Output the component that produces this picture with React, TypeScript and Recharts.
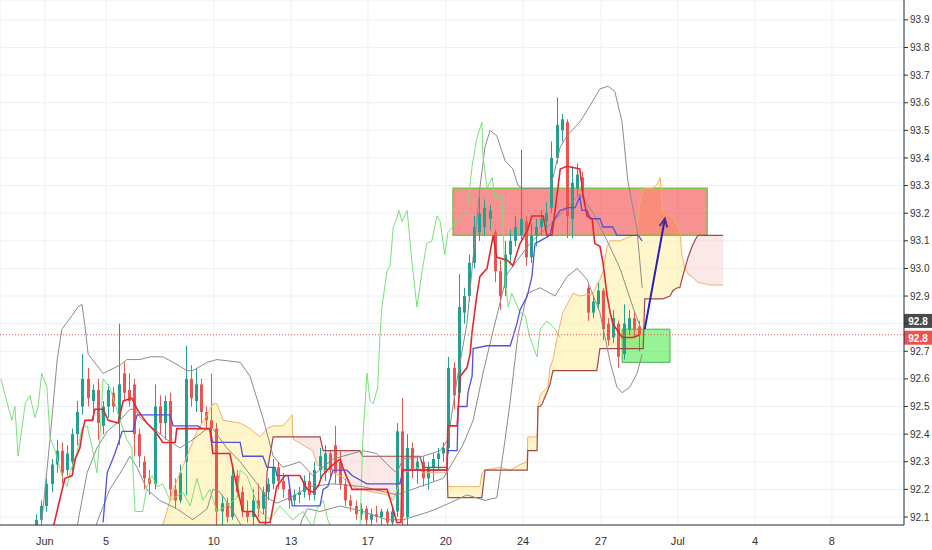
import {
  ComposedChart,
  XAxis,
  YAxis,
  CartesianGrid,
  Bar,
  Line,
  Area,
  ReferenceArea,
  ReferenceLine,
} from 'recharts'

// x is measured in bars (5 bars per trading day), y in index points
const FIRST_BAR = 7

// [open, high, low, close]
const CANDLES: [number, number, number, number][] = [
  [92.07, 92.11, 92.05, 92.09], [92.09, 92.16, 92.06, 92.14], [92.14, 92.24, 92.12, 92.22],
  [92.22, 92.31, 92.19, 92.29], [92.29, 92.38, 92.26, 92.34], [92.34, 92.37, 92.22, 92.26],
  [92.27, 92.36, 92.25, 92.33], [92.30, 92.42, 92.27, 92.40], [92.40, 92.52, 92.36, 92.48],
  [92.50, 92.69, 92.47, 92.60], [92.60, 92.64, 92.50, 92.53], [92.52, 92.58, 92.45, 92.56],
  [92.56, 92.60, 92.38, 92.44], [92.43, 92.52, 92.40, 92.50], [92.50, 92.58, 92.46, 92.56],
  [92.55, 92.57, 92.48, 92.50], [92.45, 92.80, 92.36, 92.58], [92.62, 92.66, 92.52, 92.55],
  [92.56, 92.62, 92.50, 92.52], [92.58, 92.60, 92.32, 92.40], [92.40, 92.42, 92.28, 92.32],
  [92.30, 92.32, 92.20, 92.24], [92.24, 92.27, 92.18, 92.22], [92.22, 92.58, 92.20, 92.50],
  [92.50, 92.54, 92.40, 92.44], [92.44, 92.54, 92.38, 92.52], [92.52, 92.55, 92.16, 92.20],
  [92.20, 92.24, 92.13, 92.16], [92.16, 92.29, 92.15, 92.26], [92.30, 92.72, 92.18, 92.60],
  [92.60, 92.65, 92.50, 92.53], [92.52, 92.64, 92.48, 92.58], [92.58, 92.60, 92.44, 92.48],
  [92.48, 92.50, 92.42, 92.45], [92.45, 92.62, 92.40, 92.42], [92.42, 92.44, 92.07, 92.12],
  [92.12, 92.18, 92.07, 92.15], [92.15, 92.17, 92.08, 92.10], [92.10, 92.28, 92.09, 92.25],
  [92.25, 92.27, 92.17, 92.19], [92.19, 92.21, 92.10, 92.12], [92.12, 92.16, 92.08, 92.10],
  [92.10, 92.20, 92.07, 92.16], [92.16, 92.22, 92.10, 92.13], [92.13, 92.21, 92.11, 92.19],
  [92.19, 92.24, 92.16, 92.22], [92.22, 92.31, 92.20, 92.28], [92.28, 92.30, 92.20, 92.23],
  [92.23, 92.26, 92.17, 92.20], [92.20, 92.22, 92.13, 92.16], [92.16, 92.20, 92.14, 92.18],
  [92.18, 92.21, 92.15, 92.19], [92.19, 92.25, 92.17, 92.23], [92.23, 92.26, 92.16, 92.18],
  [92.18, 92.30, 92.16, 92.27], [92.27, 92.35, 92.24, 92.32], [92.26, 92.36, 92.23, 92.33],
  [92.33, 92.34, 92.24, 92.27], [92.36, 92.43, 92.22, 92.26], [92.30, 92.34, 92.20, 92.22],
  [92.22, 92.24, 92.14, 92.16], [92.16, 92.18, 92.12, 92.14], [92.14, 92.16, 92.09, 92.11],
  [92.11, 92.15, 92.09, 92.13], [92.13, 92.14, 92.07, 92.09], [92.09, 92.13, 92.06, 92.11],
  [92.11, 92.14, 92.08, 92.10], [92.10, 92.13, 92.07, 92.12], [92.12, 92.13, 92.07, 92.08],
  [92.08, 92.14, 92.06, 92.12], [92.12, 92.44, 92.10, 92.41], [92.41, 92.53, 92.07, 92.10],
  [92.10, 92.40, 92.07, 92.35], [92.35, 92.37, 92.24, 92.27], [92.27, 92.32, 92.22, 92.30],
  [92.30, 92.32, 92.21, 92.24], [92.24, 92.30, 92.20, 92.28], [92.28, 92.33, 92.23, 92.31],
  [92.31, 92.35, 92.27, 92.33], [92.33, 92.37, 92.30, 92.35], [92.35, 92.68, 92.33, 92.64],
  [92.64, 92.66, 92.49, 92.54], [92.55, 92.98, 92.53, 92.86], [92.84, 92.93, 92.80, 92.90],
  [92.90, 93.05, 92.88, 93.02], [93.02, 93.19, 93.00, 93.15], [93.13, 93.26, 93.10, 93.20],
  [93.15, 93.25, 93.12, 93.22], [93.18, 93.23, 93.14, 93.21], [93.13, 93.14, 92.95, 92.99],
  [92.99, 93.03, 92.85, 92.90], [92.93, 93.10, 92.90, 93.05], [93.05, 93.14, 93.02, 93.10],
  [93.10, 93.19, 93.08, 93.15], [93.12, 93.43, 93.10, 93.18], [93.17, 93.19, 93.01, 93.04],
  [93.04, 93.16, 93.02, 93.12], [93.12, 93.18, 93.08, 93.15], [93.15, 93.21, 93.12, 93.18],
  [93.17, 93.24, 93.14, 93.20], [93.22, 93.46, 93.20, 93.40], [93.40, 93.62, 93.38, 93.52],
  [93.50, 93.56, 93.46, 93.54], [93.53, 93.54, 93.11, 93.19], [93.18, 93.37, 93.11, 93.31],
  [93.29, 93.38, 93.26, 93.34], [93.33, 93.35, 93.26, 93.28], [92.93, 92.94, 92.81, 92.84],
  [92.84, 92.90, 92.82, 92.88], [92.87, 92.95, 92.85, 92.92], [92.92, 92.93, 92.74, 92.78],
  [92.80, 92.82, 92.72, 92.74], [92.75, 92.85, 92.73, 92.82], [92.80, 92.81, 92.64, 92.68],
  [92.69, 92.87, 92.67, 92.80], [92.78, 92.85, 92.76, 92.82], [92.82, 92.84, 92.75, 92.78],
  [92.79, 92.81, 92.70, 92.76],
]

// conversion line (red)
const TENKAN: [number, number][] = [
  [10.3, 92.06], [11.3, 92.14], [12.6, 92.24], [14.0, 92.25], [14.6, 92.31], [15.5, 92.35],
  [16.1, 92.42], [16.5, 92.45], [17.9, 92.45], [18.4, 92.49], [20.0, 92.49], [21.0, 92.45],
  [22.9, 92.44], [23.9, 92.52], [25.6, 92.53], [26.6, 92.49], [28.5, 92.44], [30.1, 92.41],
  [31.6, 92.37], [34.0, 92.37], [34.3, 92.42], [40.7, 92.42], [41.3, 92.33], [44.6, 92.33],
  [45.6, 92.24], [47.1, 92.12], [49.1, 92.12], [50.4, 92.08], [52.4, 92.08], [53.7, 92.21],
  [55.3, 92.25], [58.2, 92.25], [59.6, 92.20], [60.7, 92.19], [61.7, 92.21], [62.5, 92.25],
  [64.0, 92.28], [66.0, 92.31], [66.5, 92.28], [68.3, 92.20], [75.1, 92.20], [76.1, 92.14],
  [77.0, 92.08], [77.8, 92.08], [78.0, 92.27], [86.7, 92.27], [86.9, 92.43], [88.7, 92.43],
  [89.3, 92.61], [90.6, 92.64], [91.2, 92.69], [91.6, 92.77], [92.5, 92.90], [93.1, 92.97],
  [94.5, 93.0], [95.7, 93.12], [96.4, 93.04], [98.4, 93.03], [99.5, 93.01], [100.9, 93.09],
  [102.4, 93.14], [103.2, 93.19], [105.4, 93.19], [106.1, 93.12], [107.1, 93.12], [107.7, 93.21],
  [108.7, 93.36], [110.0, 93.37], [112.5, 93.36], [113.1, 93.27], [113.9, 93.19], [114.9, 93.18],
  [115.4, 93.09], [116.4, 93.08], [117.0, 93.02], [117.8, 92.90], [118.4, 92.84], [118.9, 92.80],
  [120.7, 92.75], [122.8, 92.75], [124.2, 92.76],
]

// base line (blue)
const KIJUN: [number, number][] = [
  [20.0, 92.08], [20.8, 92.26], [22.3, 92.33], [23.7, 92.41], [25.8, 92.41], [26.6, 92.47],
  [33.0, 92.47], [33.6, 92.43], [38.4, 92.43], [39.2, 92.42], [40.7, 92.42], [41.3, 92.37],
  [46.6, 92.37], [47.1, 92.32], [51.0, 92.32], [51.8, 92.28], [53.4, 92.28], [53.7, 92.25],
  [55.9, 92.25], [56.7, 92.14], [62.1, 92.14], [62.7, 92.20], [63.6, 92.21], [64.6, 92.27],
  [67.3, 92.27], [68.3, 92.25], [71.2, 92.22], [77.6, 92.22], [78.2, 92.27], [86.7, 92.27],
  [86.9, 92.34], [88.7, 92.34], [88.9, 92.50], [90.6, 92.50], [90.8, 92.55], [91.6, 92.61],
  [91.8, 92.71], [94.5, 92.72], [99.0, 92.72], [100.3, 92.80], [100.9, 92.85], [102.3, 92.90],
  [103.2, 92.97], [103.8, 93.09], [104.8, 93.10], [106.7, 93.12], [107.3, 93.17], [108.7, 93.21],
  [110.2, 93.22], [111.6, 93.22], [112.5, 93.26], [112.9, 93.21], [113.9, 93.21], [114.5, 93.18],
  [116.4, 93.18], [117.0, 93.15], [118.9, 93.15], [119.7, 93.12], [123.8, 93.12], [124.6, 93.10],
]

// lagging span (green)
const CHIKOU: [number, number][] = [
  [0.2, 92.6], [1.0, 92.54], [2.3, 92.45], [2.9, 92.5], [3.5, 92.32], [4.9, 92.51], [5.8, 92.54],
  [6.8, 92.46], [7.4, 92.5], [8.1, 92.62], [9.1, 92.57], [9.7, 92.39], [10.7, 92.34], [12.0, 92.25],
  [13.0, 92.21], [13.6, 92.26], [14.9, 92.33], [15.9, 92.42], [16.9, 92.43], [17.9, 92.35],
  [18.8, 92.26], [19.4, 92.39], [20.0, 92.6], [21.3, 92.57], [22.3, 92.51], [23.3, 92.45],
  [24.6, 92.38], [25.6, 92.35], [26.2, 92.12], [27.7, 92.12], [28.5, 92.21], [29.5, 92.25],
  [30.5, 92.21], [31.6, 92.22], [33.0, 92.16], [35.5, 92.19], [36.9, 92.14], [38.2, 92.24],
  [39.4, 92.16], [40.7, 92.2], [42.1, 92.12], [44.0, 92.14], [46.0, 92.17], [46.6, 92.27],
  [47.9, 92.25], [49.1, 92.19], [50.4, 92.12], [52.4, 92.09], [54.3, 92.14], [56.8, 92.09],
  [58.8, 92.12], [60.7, 92.06], [61.5, 92.13], [62.7, 92.16], [63.6, 92.09], [65.0, 92.03],
  [69.8, 92.03], [70.4, 92.38], [71.2, 92.62], [71.8, 92.52], [72.4, 92.51], [73.3, 92.57],
  [73.7, 92.75], [74.1, 92.86], [75.1, 92.99], [75.7, 93.01], [76.3, 93.15], [76.8, 93.17],
  [77.4, 93.21], [78.0, 93.17], [79.0, 93.21], [79.9, 93.03], [80.9, 92.86], [81.9, 92.99],
  [82.8, 93.09], [83.8, 93.1], [84.8, 93.19], [85.4, 93.17], [86.3, 93.05], [86.9, 93.13],
  [88.7, 93.17], [90.6, 93.2], [91.6, 93.37], [92.5, 93.47], [93.5, 93.53], [93.7, 93.41],
  [94.5, 93.29], [95.5, 93.33], [96.0, 93.26], [97.4, 93.26], [98.0, 92.96], [98.6, 92.86],
  [99.3, 92.91], [100.9, 92.84], [101.9, 92.83], [102.8, 92.75], [104.2, 92.68], [104.8, 92.78],
  [106.1, 92.81], [107.7, 92.78], [108.7, 92.75],
]

const BB_UPPER: [number, number][] = [
  [7.8, 92.03], [8.3, 92.12], [9.7, 92.38], [11.1, 92.67], [12.0, 92.78], [14.0, 92.83],
  [15.1, 92.86], [15.9, 92.87], [16.5, 92.79], [17.1, 92.69], [20.0, 92.62], [23.3, 92.65],
  [24.6, 92.67], [27.2, 92.67], [29.1, 92.68], [31.6, 92.68], [33.6, 92.66], [36.3, 92.63],
  [37.4, 92.63], [40.2, 92.66], [42.1, 92.67], [46.6, 92.66], [48.5, 92.61], [51.0, 92.46],
  [53.0, 92.32], [54.9, 92.28], [58.2, 92.3], [60.7, 92.25], [64.6, 92.31], [70.4, 92.34],
  [73.1, 92.33], [75.7, 92.28], [77.0, 92.26], [78.2, 92.31], [82.1, 92.32], [85.4, 92.34],
  [86.9, 92.38], [88.7, 92.6], [90.6, 92.8], [91.8, 93.04], [93.1, 93.29], [94.1, 93.44],
  [95.1, 93.5], [96.4, 93.48], [98.0, 93.39], [99.5, 93.36], [100.5, 93.3], [101.5, 93.29],
  [106.7, 93.29], [107.3, 93.33], [108.7, 93.44], [110.0, 93.48], [112.5, 93.53], [114.5, 93.59],
  [116.4, 93.65], [118.0, 93.66], [119.3, 93.64], [120.7, 93.53], [121.8, 93.32], [123.6, 93.14],
  [124.6, 92.93],
]

const BB_MID: [number, number][] = [
  [14.6, 92.03], [14.9, 92.06], [16.9, 92.26], [18.8, 92.35], [20.8, 92.41], [23.3, 92.45],
  [25.2, 92.49], [26.2, 92.49], [27.2, 92.46], [29.1, 92.43], [32.4, 92.38], [34.9, 92.35],
  [37.4, 92.38], [40.2, 92.42], [41.3, 92.42], [44.0, 92.35], [46.6, 92.3], [49.9, 92.22],
  [51.8, 92.17], [53.7, 92.15], [56.3, 92.17], [60.1, 92.21], [64.6, 92.22], [70.4, 92.21],
  [77.0, 92.18], [81.5, 92.21], [86.0, 92.24], [87.9, 92.3], [89.8, 92.36], [91.8, 92.45],
  [93.7, 92.62], [95.5, 92.76], [98.4, 92.98], [102.8, 93.09], [107.3, 93.17], [110.0, 93.22],
  [112.5, 93.27], [115.1, 93.2], [117.8, 93.1], [120.3, 93.0], [122.8, 92.86], [124.2, 92.79],
]

const BB_LOWER: [number, number][] = [
  [18.4, 92.03], [18.8, 92.08], [21.3, 92.2], [23.7, 92.27], [25.2, 92.32], [26.6, 92.28],
  [28.5, 92.2], [31.0, 92.16], [34.3, 92.13], [37.4, 92.09], [40.2, 92.13], [41.3, 92.2],
  [42.7, 92.19], [45.2, 92.12], [47.1, 92.06], [48.5, 92.01], [57.2, 92.01], [58.6, 92.09],
  [59.6, 92.13], [62.1, 92.12], [66.0, 92.14], [70.4, 92.12], [75.1, 92.09], [78.2, 92.09],
  [83.4, 92.12], [86.0, 92.14], [88.3, 92.16], [90.6, 92.18], [94.1, 92.16], [96.4, 92.17],
  [98.0, 92.38], [99.0, 92.52], [100.5, 92.76], [102.3, 92.91], [104.8, 92.93], [107.7, 92.9],
  [110.0, 92.97], [112.0, 93.0], [113.9, 92.96], [116.4, 92.84], [118.4, 92.66], [119.7, 92.57],
  [120.7, 92.55], [122.2, 92.57], [123.6, 92.62], [124.6, 92.69],
]

// [bar, leading span A, leading span B]
const CLOUD: [number, number, number][] = [
  [30.7, 92.03, 91.95], [31.6, 92.07, 91.95], [33.6, 92.2, 91.95], [36.3, 92.32, 91.95],
  [38.2, 92.41, 91.95], [40.2, 92.47, 91.95], [41.3, 92.51, 91.95], [42.1, 92.51, 91.95],
  [43.3, 92.45, 91.95], [46.6, 92.44, 91.95], [48.5, 92.42, 91.95], [50.4, 92.39, 91.95],
  [51.4, 92.41, 92.0], [51.8, 92.42, 92.26], [53.0, 92.43, 92.39], [54.9, 92.43, 92.39],
  [56.3, 92.46, 92.39], [56.7, 92.47, 92.39], [56.8, 92.39, 92.39], [57.0, 92.38, 92.39],
  [60.7, 92.34, 92.39], [61.5, 92.29, 92.39], [62.1, 92.28, 92.39], [62.7, 92.27, 92.34],
  [66.0, 92.25, 92.34], [68.5, 92.21, 92.34], [69.8, 92.2, 92.34], [70.4, 92.2, 92.32],
  [72.4, 92.19, 92.32], [75.1, 92.18, 92.32], [76.3, 92.16, 92.32], [78.2, 92.26, 92.32],
  [80.9, 92.28, 92.32], [81.5, 92.27, 92.32], [82.1, 92.26, 92.28], [86.7, 92.26, 92.28],
  [86.8, 92.25, 92.25], [86.9, 92.21, 92.17], [93.1, 92.21, 92.17], [93.5, 92.26, 92.17],
  [94.1, 92.27, 92.27], [97.0, 92.28, 92.27], [99.0, 92.27, 92.27], [100.9, 92.29, 92.27],
  [102.3, 92.3, 92.27], [102.4, 92.39, 92.34], [104.2, 92.39, 92.34], [104.4, 92.5, 92.5],
  [104.8, 92.54, 92.5], [105.2, 92.55, 92.51], [106.3, 92.57, 92.56], [106.7, 92.64, 92.58],
  [107.3, 92.67, 92.63], [108.1, 92.75, 92.63], [109.2, 92.84, 92.63], [111.2, 92.91, 92.63],
  [112.5, 92.9, 92.63], [115.1, 92.91, 92.63], [115.8, 92.94, 92.63], [116.4, 92.96, 92.71],
  [117.0, 92.99, 92.71], [117.8, 93.08, 92.71], [118.4, 93.1, 92.71], [120.3, 93.1, 92.71],
  [122.8, 93.12, 92.71], [123.6, 93.15, 92.71], [124.2, 93.24, 92.71], [124.8, 93.29, 92.71],
  [125.1, 93.29, 92.89], [126.7, 93.29, 92.89], [127.7, 93.31, 92.89], [128.1, 93.33, 92.89],
  [128.6, 93.2, 92.89], [130.0, 93.19, 92.9], [130.6, 93.18, 92.92], [131.4, 93.16, 92.93],
  [131.9, 93.14, 92.93], [132.3, 93.05, 92.96], [132.9, 93.0, 93.0], [133.5, 92.98, 93.04],
  [134.3, 92.97, 93.08], [134.8, 92.96, 93.1], [135.4, 92.95, 93.12], [137.8, 92.94, 93.12],
  [139.1, 92.94, 93.12], [140.3, 92.94, 93.12],
]

const X_TICKS = [8.7, 20.6, 41.5, 56.5, 71.4, 86.5, 101.5, 116.6, 131.5, 146.5, 161.4]
const X_LABELS = ['Jun', '5', '10', '13', '17', '20', '24', '27', 'Jul', '4', '8']
const Y_TICKS = [92.1, 92.2, 92.3, 92.4, 92.5, 92.6, 92.7, 92.8, 92.9, 93.0, 93.1, 93.2, 93.3, 93.4, 93.5, 93.6, 93.7, 93.8, 93.9]

const LAST_PRICE = 92.76
const LAST_MARK = 92.81
// the axis label under the price tags is hidden, as the tags cover it
const COVERED_TICK = 92.8
const SUPPLY_ZONE = { from: 87.9, to: 137.2, low: 93.12, high: 93.29 }
const DEMAND_ZONE = { from: 120.7, to: 130.0, low: 92.66, high: 92.78 }
const ARROW: [number, number][] = [[125.1, 92.78], [129.0, 93.18]]

const UP = '#22a090'
const DOWN = '#ef5350'
const FONT = 'Liberation Sans, Arial, sans-serif'

const toRows = (pts: [number, number][]) => pts.map(([x, y]) => ({ x, y }))

const candleRows = CANDLES.map(([o, h, l, c], i) => ({ x: FIRST_BAR + i, o, h, l, c, range: [l, h] }))
const cloudRows = CLOUD.map(([x, a, b]) => ({
  x,
  a,
  b,
  bull: a >= b ? [b, a] : null,
  bear: b >= a ? [a, b] : null,
}))

function Candle(props: any) {
  const { x, y, width, height, payload } = props
  if (!payload || x == null || y == null) return null
  const top = Math.min(y, y + height)
  const h = Math.abs(height)
  const ratio = h / (payload.h - payload.l || 1)
  const up = payload.c >= payload.o
  const color = up ? UP : DOWN
  const bodyTop = top + (payload.h - Math.max(payload.o, payload.c)) * ratio
  const bodyH = Math.max(1, Math.abs(payload.o - payload.c) * ratio)
  const cx = Math.round(x + (width || 0) / 2) + 0.5
  return (
    <g>
      <line x1={cx} x2={cx} y1={top} y2={top + h} stroke={color} strokeWidth={1} />
      <rect x={cx - 1.5} y={bodyTop} width={3} height={bodyH} fill={color} />
    </g>
  )
}

function PriceTag(props: any) {
  const { viewBox, fill, text, shift } = props
  if (!viewBox) return null
  const right = viewBox.x + viewBox.width
  const cy = viewBox.y + (shift || 0)
  return (
    <g>
      <rect x={right} y={cy - 7} width={28} height={14} fill={fill} />
      <text x={right + 14} y={cy + 4} textAnchor="middle" fill="#fff" fontSize={10} fontWeight="bold" fontFamily={FONT}>
        {text}
      </text>
    </g>
  )
}

function Arrow(props: any) {
  const { x1, y1, x2, y2 } = props
  if ([x1, y1, x2, y2].some((v) => v == null || Number.isNaN(v))) return null
  const ang = Math.atan2(y2 - y1, x2 - x1)
  const len = 9
  const spread = 0.45
  const ax = x2 - len * Math.cos(ang - spread)
  const ay = y2 - len * Math.sin(ang - spread)
  const bx = x2 - len * Math.cos(ang + spread)
  const by = y2 - len * Math.sin(ang + spread)
  return (
    <g>
      <line x1={x1} y1={y1} x2={x2} y2={y2} stroke="#2424b4" strokeWidth={2} />
      <polyline points={`${ax},${ay} ${x2},${y2} ${bx},${by}`} fill="none" stroke="#5a2a88" strokeWidth={2} />
    </g>
  )
}

const lineProps = { type: 'linear' as const, dot: false, activeDot: false, isAnimationActive: false }

export default function App() {
  return (
    <div style={{ position: 'absolute', left: 0, top: 0, background: '#fff' }}>
      <ComposedChart width={932} height={550} data={candleRows} margin={{ top: 0, right: 0, bottom: 0, left: 0 }}>
        <CartesianGrid stroke="#eef0f3" />
        <XAxis
          dataKey="x"
          type="number"
          domain={[0, 175.4]}
          ticks={X_TICKS}
          interval={0}
          allowDataOverflow
          tickFormatter={(v) => X_LABELS[X_TICKS.indexOf(v)] ?? ''}
          tickLine={false}
          axisLine={{ stroke: '#2a2e39' }}
          height={25}
          tickMargin={6}
          tick={{ fontSize: 11, fill: '#333', fontFamily: FONT }}
        />
        <YAxis
          orientation="right"
          type="number"
          domain={[92.071, 93.972]}
          ticks={Y_TICKS}
          interval={0}
          allowDataOverflow
          tickFormatter={(v) => (v === COVERED_TICK ? '' : v.toFixed(1))}
          width={28}
          tickSize={4}
          tickMargin={2}
          tickLine={{ stroke: '#2a2e39' }}
          axisLine={{ stroke: '#2a2e39' }}
          tick={{ fontSize: 10, fill: '#333', fontFamily: FONT, textAnchor: 'start' }}
        />

        <Area data={cloudRows} dataKey="bull" type="linear" stroke="none" fill="#fff0a8" fillOpacity={0.6} activeDot={false} isAnimationActive={false} />
        <Area data={cloudRows} dataKey="bear" type="linear" stroke="none" fill="#f8d2d2" fillOpacity={0.5} activeDot={false} isAnimationActive={false} />
        <Line data={cloudRows} dataKey="a" stroke="#f5b065" strokeWidth={1} {...lineProps} />
        <Line data={cloudRows} dataKey="b" stroke="#a04848" strokeWidth={1.2} {...lineProps} />

        <Line data={toRows(BB_UPPER)} dataKey="y" stroke="#8c8c8c" strokeWidth={1} {...lineProps} />
        <Line data={toRows(BB_MID)} dataKey="y" stroke="#8c8c8c" strokeWidth={1} {...lineProps} />
        <Line data={toRows(BB_LOWER)} dataKey="y" stroke="#8c8c8c" strokeWidth={1} {...lineProps} />
        <Line data={toRows(CHIKOU)} dataKey="y" stroke="#78e278" strokeWidth={1} {...lineProps} />

        <Bar dataKey="range" barSize={3} shape={<Candle />} isAnimationActive={false} />

        <Line data={toRows(KIJUN)} dataKey="y" stroke="#5151de" strokeWidth={1.3} {...lineProps} />
        <Line data={toRows(TENKAN)} dataKey="y" stroke="#e5262e" strokeWidth={1.6} {...lineProps} />

        <ReferenceArea
          x1={SUPPLY_ZONE.from}
          x2={SUPPLY_ZONE.to}
          y1={SUPPLY_ZONE.low}
          y2={SUPPLY_ZONE.high}
          fill="#f23636"
          fillOpacity={0.55}
          stroke="#7fbf45"
          strokeWidth={1.5}
        />
        <ReferenceArea
          x1={DEMAND_ZONE.from}
          x2={DEMAND_ZONE.to}
          y1={DEMAND_ZONE.low}
          y2={DEMAND_ZONE.high}
          fill="#2ee82e"
          fillOpacity={0.5}
          stroke="#4caf50"
          strokeWidth={1}
        />
        <ReferenceLine
          segment={ARROW.map(([x, y]) => ({ x, y }))}
          shape={(p: any) => <Arrow {...p} />}
        />
        <ReferenceLine
          y={LAST_MARK}
          stroke="none"
          strokeOpacity={0}
          label={<PriceTag fill="#4a4a4a" text="92.8" shift={0} />}
        />
        <ReferenceLine
          y={LAST_PRICE}
          stroke="#ef5350"
          strokeDasharray="1 2"
          label={<PriceTag fill="#ef5350" text="92.8" shift={3} />}
        />
      </ComposedChart>
    </div>
  )
}
